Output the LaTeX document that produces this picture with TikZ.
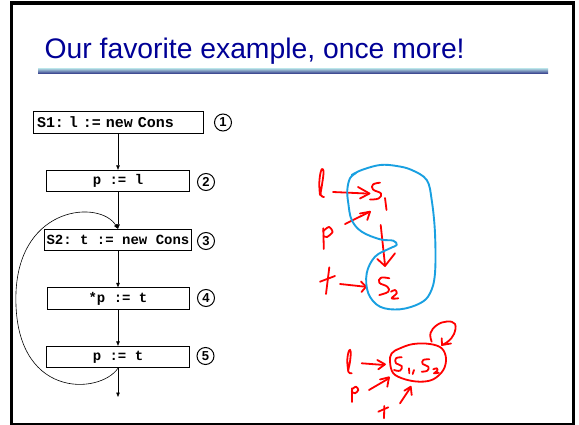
\documentclass[tikz,border=0pt]{standalone}
\usepackage{fontspec}
\newfontfamily\titlefont{Liberation Sans}
\newfontfamily\codefont{Liberation Mono}[WordSpace={1,0,0}]
\usetikzlibrary{arrows.meta}
\definecolor{titleblue}{RGB}{0,0,150}
\definecolor{handred}{RGB}{255,0,0}
\definecolor{handblue}{RGB}{25,160,225}
\definecolor{barlight}{RGB}{175,215,225}
\definecolor{barmid}{RGB}{110,140,195}
\definecolor{bardark}{RGB}{40,45,130}
\begin{document}
\frenchspacing
\begin{tikzpicture}[x=1pt,y=-1pt,
  stmt/.style={draw=black, line width=0.8pt, minimum height=21.5pt, inner sep=0pt, font=\codefont\bfseries\fontsize{14}{16}\selectfont},
  numc/.style={circle, draw=black, line width=1pt, minimum size=17pt, inner sep=0pt, font=\titlefont\bfseries\fontsize{13}{14}\selectfont},
  flow/.style={draw=black, line width=0.6pt, -{Triangle[length=4.5pt,width=3.5pt]}},
  redink/.style={draw=handred, line width=1.8pt, line cap=round, line join=round},
  blueink/.style={draw=handblue, line width=1.9pt, line cap=round, line join=round},
]
\useasboundingbox (0,0) rectangle (579,425);
\fill[white] (0,0) rectangle (579,425);

% title
\node[anchor=base west, inner sep=0pt, text=titleblue, font=\titlefont\fontsize{28.3}{34}\selectfont] (title) at (44.5,59) {Our favorite example, once more!};
\shade[top color=barlight, middle color=barmid, bottom color=bardark] (38,68.5) rectangle (548,74);

% flowchart
\node[stmt, minimum width=170pt, text width=162pt, align=left, font=\codefont\bfseries\fontsize{15}{16}\selectfont] (b1) at (118,122.5) {S1: l := new Cons};
\node[stmt, minimum width=143pt] (b2) at (118,181) {p := l};
\node[stmt, minimum width=147pt] (b3) at (118,240) {S2: t := new Cons};
\node[stmt, minimum width=142pt] (b4) at (118,298.5) {*p := t};
\node[stmt, minimum width=143pt] (b5) at (118,357) {p := t};
\coordinate (exit) at (118,397);

\node[numc] (c1) at (223,122.5) {1};
\node[numc] (c2) at (206,182) {2};
\node[numc] (c3) at (206,241) {3};
\node[numc] (c4) at (206,298) {4};
\node[numc] (c5) at (205.5,356) {5};

\draw[flow] (b1.south) -- (b2.north);
\draw[flow] (b2.south) -- (b3.north);
\draw[flow] (b3.south) -- (b4.north);
\draw[flow] (b4.south) -- (b5.north);
\draw[flow] (b5.south) -- (exit);
\draw[flow] (b5.south) .. controls (100,395) and (12,400) .. (16,292) .. controls (20,205) and (100,200) .. (b3.north);

% handwriting, upper group
\draw[redink] plot[smooth, tension=0.7] coordinates {(320,195) (319.3,183) (320.7,172) (322.5,169) (323.5,173.5) (321.7,186.7) (320.7,195) (324,197)};
\draw[redink] (333,192) -- (366,193.5);
\draw[redink] (358,187) -- (369.5,193.5) -- (360,198.5);
\draw[redink] plot[smooth, tension=0.7] coordinates {(380,182.7) (373,184.5) (373,189.5) (381,193.5) (378.5,198.5) (370,199.5)};
\draw[redink] (385,198) -- (386.5,210);
\draw[redink] (323.3,228.3) -- (323.8,249);
\draw[redink] plot[smooth] coordinates {(323.3,231) (329,227) (332.5,232) (327,237) (323.5,236)};
\draw[redink] (345,224) -- (370,211.7);
\draw[redink] (360,213.5) -- (370,211.7) -- (367.3,220);
\draw[redink] (329.3,267.3) -- (326,294);
\draw[redink] (320,281.7) -- (335,276);
\draw[redink] (340,284) -- (365,286.7);
\draw[redink] (361,281.5) -- (366,286.7) -- (361.5,292);
\draw[redink] plot[smooth, tension=0.7] coordinates {(389.3,278.3) (381,277.7) (379.3,282.7) (387.3,286.7) (388.3,291.7) (379.3,295)};
\draw[redink] plot[smooth, tension=0.6] coordinates {(391,291.7) (395,290) (396.7,293.3) (391.7,298.3) (398.3,298.3)};
\draw[redink] (380.7,225) -- (385,265);
\draw[redink] (377.3,259) -- (385,266) -- (395,253.3);
\draw[blueink] plot[smooth, tension=0.6] coordinates {(351.7,175) (361.7,170) (380,165) (396.7,166) (411.7,170) (426.7,180) (431.7,200) (435,233.3) (435,273.3) (430,293.3) (420,303.3) (400,309.3) (380,306.7) (368.3,293.3) (366.7,273.3) (375,256.7) (390,248.3) (396.7,245) (393.3,240.7) (380,239.3) (361.7,231.7) (351.7,220) (348.3,203.3) (347.3,190) (350,178.3) (356,173)};

% handwriting, lower group
\draw[redink] plot[smooth, tension=0.7] coordinates {(348.3,371.7) (347.3,360) (349,350.7) (350.7,351.7) (350,361.7) (348.3,371.7) (351.7,373.3)};
\draw[redink] (361.7,363.3) -- (384,365);
\draw[redink] (377.3,360) -- (385,364.3) -- (378.3,369.3);
\draw[redink] plot[smooth cycle, tension=0.6] coordinates {(390,361.7) (391.7,353.3) (400,348.3) (413.3,344) (430,344) (441.7,348.3) (446,358.3) (443.3,370) (433.3,379.3) (420,381.7) (405,379.3) (393.3,373.3)};
\draw[redink] plot[smooth, tension=0.7] coordinates {(401.7,357.3) (396,358.3) (396,363.3) (401.7,366) (400,370.7) (394,370)};
\draw[redink] (409,368.3) -- (409.3,373.3);
\draw[redink] (414,370) -- (412.7,374);
\draw[redink] plot[smooth, tension=0.7] coordinates {(429.3,359.3) (423.3,360) (422.7,364) (428.3,366.7) (427.3,370.7) (421.7,371.7)};
\draw[redink] plot[smooth, tension=0.6] coordinates {(433.3,369.3) (436.7,368.3) (437.3,370.7) (434,373.3) (438.7,372.7)};
\draw[redink] plot[smooth, tension=0.7] coordinates {(431.7,341.7) (430.5,333) (437,325) (447,321.5) (455,324) (454,334) (448,341.5) (441.7,345)};
\draw[redink] (441.7,338.3) -- (442,345) -- (451,343.5);
\draw[redink] (351.7,388.3) -- (351.7,402);
\draw[redink] plot[smooth] coordinates {(351.7,389.5) (356,386.7) (358.3,390) (355,393.3) (351.7,391.7)};
\draw[redink] (369,390) -- (389,378.3);
\draw[redink] (380,379.5) -- (389,377.3) -- (387.3,386.7);
\draw[redink] (384.3,406) -- (384,418.3);
\draw[redink] (378.3,411.7) -- (388.3,407.3);
\draw[redink] (400,403.3) -- (410.7,387.3);
\draw[redink] (404.3,390.7) -- (410.7,386.7) -- (411.7,395);

% slide frame
\fill[black] (10,1.5) rectangle (575,5.5);
\fill[black] (10,1.5) rectangle (13,424.5);
\fill[black] (572,1.5) rectangle (575,424.5);
\fill[black] (10,423) rectangle (575,424.5);
\end{tikzpicture}
\end{document}
